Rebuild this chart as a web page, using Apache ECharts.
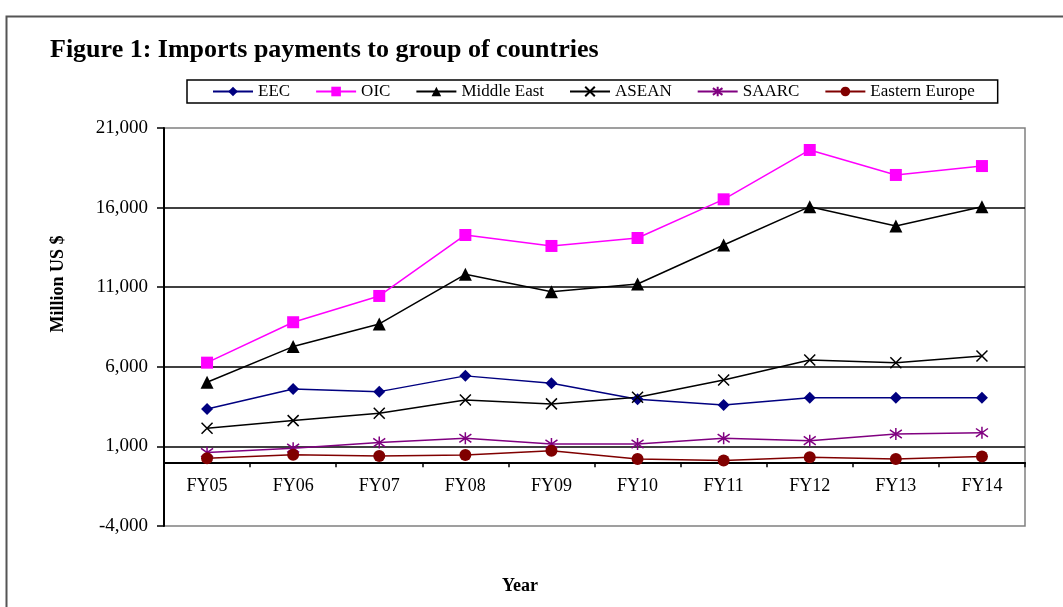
<!DOCTYPE html>
<html>
<head>
<meta charset="utf-8">
<script src="https://cdn.jsdelivr.net/npm/echarts@6/dist/echarts.min.js"></script>
<style>
  html, body { margin: 0; padding: 0; background: #fff; }
  #chart { width: 1063px; height: 607px; }
</style>
</head>
<body>
<div id="chart"></div>
<script>
  // data (million US $)
  var years = ['FY05', 'FY06', 'FY07', 'FY08', 'FY09', 'FY10', 'FY11', 'FY12', 'FY13', 'FY14'];
  var eec = [3350, 4610, 4440, 5430, 4970, 3960, 3600, 4060, 4060, 4060];
  var oic = [6260, 8800, 10450, 14280, 13590, 14090, 16520, 19620, 18050, 18610];
  var middleEast = [5030, 7270, 8690, 11810, 10720, 11200, 13650, 16060, 14850, 16060];
  var asean = [2140, 2620, 3080, 3920, 3670, 4090, 5170, 6430, 6260, 6680];
  var saarc = [610, 890, 1240, 1510, 1150, 1150, 1510, 1360, 1780, 1860];
  var easternEurope = [260, 470, 400, 460, 730, 210, 110, 320, 210, 360];

  var yMin = -4000, yMax = 21000, yStep = 5000;

  var serif = '"Liberation Serif", "Times New Roman", serif';
  var crossPath = 'path://M0,0L10,10M10,0L0,10';
  var starPath = 'path://M5,0L5,10M0,1.5L10,8.5M10,1.5L0,8.5';

  // grid box (px)
  var gTop = 128, gBottom = 81, gLeft = 164, gRight = 38;
  var gHeight = 607 - gTop - gBottom;
  // x axis sits on zero, with its labels right under it
  var zeroOffset = -(0 - yMin) / (yMax - yMin) * gHeight;

  function mkSeries(name, data, color, symbol, size, strokeOnly) {
    return {
      name: name,
      type: 'line',
      data: data,
      symbol: symbol,
      symbolSize: size,
      showAllSymbol: true,
      lineStyle: { color: color, width: 1.5 },
      itemStyle: strokeOnly
        ? { color: color, borderColor: color, borderWidth: 1.5 }
        : { color: color, borderWidth: 0 },
      emphasis: { disabled: true },
      animation: false
    };
  }

  var myChart = echarts.init(document.getElementById('chart'));
  var option = {
    backgroundColor: '#fff',
    textStyle: { fontFamily: serif },
    title: {
      text: 'Figure 1: Imports payments to group of countries',
      left: 45,
      top: 32,
      textStyle: { fontFamily: serif, fontSize: 26, fontWeight: 'bold', color: '#000' }
    },
    legend: {
      left: 187,
      top: 80,
      padding: [3, 23, 3, 25],
      itemWidth: 40,
      itemHeight: 12,
      itemGap: 25,
      borderColor: '#000',
      borderWidth: 1.5,
      textStyle: { fontFamily: serif, fontSize: 17, color: '#000' },
      data: ['EEC', 'OIC', 'Middle East', 'ASEAN', 'SAARC', 'Eastern Europe']
    },
    grid: {
      left: gLeft,
      right: gRight,
      top: gTop,
      bottom: gBottom,
      show: true,
      borderColor: '#808080',
      borderWidth: 1.5
    },
    xAxis: {
      type: 'category',
      data: years,
      boundaryGap: true,
      offset: zeroOffset,
      axisLine: { onZero: false, lineStyle: { color: '#000', width: 2 } },
      axisTick: { show: true, inside: false, length: 5, lineStyle: { color: '#000', width: 1.5 } },
      axisLabel: { color: '#000', fontFamily: serif, fontSize: 18, margin: 15 },
      splitLine: { show: false }
    },
    yAxis: {
      type: 'value',
      min: yMin,
      max: yMax,
      interval: yStep,
      axisLine: { show: true, lineStyle: { color: '#000', width: 2 } },
      axisTick: { show: true, length: 7, lineStyle: { color: '#000', width: 1.5 } },
      axisLabel: {
        color: '#000', fontFamily: serif, fontSize: 19, margin: 16,
        formatter: function (v) { return v.toLocaleString('en-US'); }
      },
      splitLine: { show: true, showMinLine: false, showMaxLine: false, lineStyle: { color: '#000', width: 1.5 } }
    },
    graphic: [
      {
        type: 'rect',
        left: 4, top: 14,
        shape: { width: 1080, height: 620 },
        style: { fill: 'none', stroke: '#555', lineWidth: 2 },
        silent: true
      },
      {
        type: 'text',
        x: 58, y: 284,
        rotation: Math.PI / 2,
        style: {
          text: 'Million US $',
          fontFamily: serif, fontSize: 18, fontWeight: 'bold', fill: '#000',
          align: 'center', verticalAlign: 'middle'
        }
      },
      {
        type: 'text',
        x: 520, y: 586,
        style: {
          text: 'Year',
          fontFamily: serif, fontSize: 18, fontWeight: 'bold', fill: '#000',
          align: 'center', verticalAlign: 'middle'
        }
      }
    ],
    series: [
      mkSeries('EEC', eec, '#000080', 'diamond', 12, false),
      mkSeries('OIC', oic, '#FF00FF', 'rect', 12, false),
      mkSeries('Middle East', middleEast, '#000000', 'triangle', 13, false),
      mkSeries('ASEAN', asean, '#000000', crossPath, 11, true),
      mkSeries('SAARC', saarc, '#800080', starPath, 12, true),
      mkSeries('Eastern Europe', easternEurope, '#800000', 'circle', 12, false)
    ]
  };
  option && myChart.setOption(option);
</script>
</body>
</html>
